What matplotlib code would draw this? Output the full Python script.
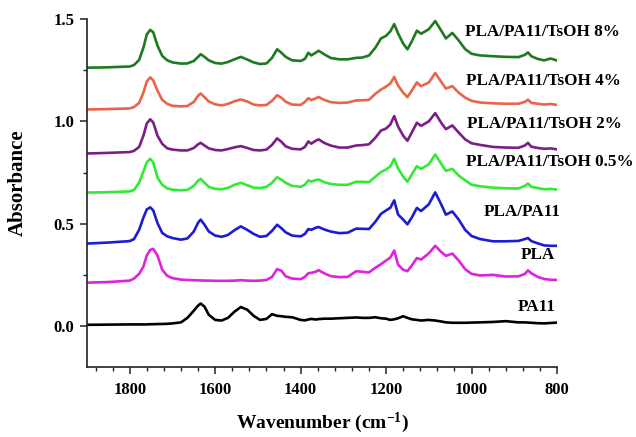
import matplotlib
matplotlib.use("Agg")
import matplotlib.pyplot as plt
from matplotlib.ticker import MultipleLocator, FormatStrFormatter

# ---------------- data ----------------
wavenumber = [1900, 1850, 1800, 1790, 1778, 1768, 1760, 1752, 1745, 1735, 1724, 1712, 1700,
              1680, 1665, 1650, 1640, 1634, 1625, 1615, 1600, 1585, 1570, 1555, 1540, 1525,
              1510, 1495, 1480, 1467, 1455, 1445, 1435, 1420, 1400, 1390, 1382, 1375, 1365,
              1358, 1345, 1330, 1310, 1290, 1270, 1255, 1240, 1225, 1212, 1200, 1190, 1181,
              1172, 1160, 1150, 1140, 1128, 1118, 1100, 1085, 1070, 1060, 1045, 1030, 1015,
              1000, 980, 950, 920, 890, 875, 868, 860, 845, 830, 815, 800]

tsoh_8 = [1.262, 1.264, 1.268, 1.275, 1.300, 1.360, 1.425, 1.447, 1.435, 1.370, 1.320, 1.298, 1.288,
          1.282, 1.283, 1.295, 1.315, 1.328, 1.315, 1.298, 1.285, 1.282, 1.290, 1.303, 1.315, 1.302,
          1.288, 1.280, 1.283, 1.310, 1.352, 1.335, 1.315, 1.298, 1.295, 1.305, 1.335, 1.322, 1.335,
          1.345, 1.328, 1.310, 1.303, 1.303, 1.310, 1.312, 1.322, 1.360, 1.405, 1.418, 1.440, 1.475,
          1.430, 1.380, 1.352, 1.390, 1.443, 1.428, 1.450, 1.490, 1.440, 1.405, 1.432, 1.395, 1.353,
          1.330, 1.322, 1.318, 1.315, 1.314, 1.325, 1.337, 1.318, 1.305, 1.298, 1.307, 1.297]

tsoh_4 = [1.058, 1.060, 1.063, 1.070, 1.090, 1.140, 1.195, 1.215, 1.200, 1.150, 1.105, 1.085, 1.076,
          1.073, 1.075, 1.095, 1.125, 1.136, 1.118, 1.097, 1.083, 1.078, 1.085, 1.098, 1.107, 1.097,
          1.082, 1.078, 1.080, 1.100, 1.128, 1.115, 1.096, 1.082, 1.080, 1.095, 1.113, 1.104, 1.112,
          1.119, 1.105, 1.094, 1.090, 1.092, 1.102, 1.103, 1.105, 1.135, 1.155, 1.170, 1.185, 1.217,
          1.175, 1.140, 1.118, 1.150, 1.190, 1.172, 1.190, 1.236, 1.190, 1.160, 1.172, 1.140, 1.116,
          1.100, 1.092, 1.088, 1.086, 1.086, 1.095, 1.106, 1.090, 1.086, 1.082, 1.085, 1.080]

tsoh_2 = [0.843, 0.846, 0.850, 0.856, 0.875, 0.930, 0.990, 1.010, 0.995, 0.930, 0.890, 0.868, 0.862,
          0.858, 0.858, 0.870, 0.888, 0.895, 0.882, 0.868, 0.860, 0.858, 0.865, 0.873, 0.879, 0.870,
          0.860, 0.858, 0.862, 0.885, 0.917, 0.900, 0.878, 0.866, 0.863, 0.875, 0.902, 0.891, 0.905,
          0.912, 0.895, 0.882, 0.872, 0.872, 0.882, 0.884, 0.888, 0.920, 0.955, 0.965, 0.985, 1.026,
          0.975, 0.930, 0.905, 0.945, 0.993, 0.978, 1.000, 1.040, 0.990, 0.962, 0.980, 0.945, 0.912,
          0.893, 0.885, 0.875, 0.872, 0.871, 0.882, 0.895, 0.876, 0.870, 0.866, 0.868, 0.863]

tsoh_05 = [0.652, 0.654, 0.658, 0.665, 0.700, 0.755, 0.800, 0.817, 0.800, 0.725, 0.690, 0.672, 0.666,
           0.663, 0.665, 0.685, 0.710, 0.719, 0.700, 0.680, 0.670, 0.668, 0.675, 0.690, 0.700, 0.688,
           0.676, 0.674, 0.680, 0.700, 0.727, 0.715, 0.700, 0.685, 0.680, 0.690, 0.712, 0.706, 0.713,
           0.716, 0.703, 0.694, 0.690, 0.690, 0.705, 0.705, 0.703, 0.730, 0.752, 0.765, 0.780, 0.817,
           0.770, 0.730, 0.705, 0.740, 0.781, 0.768, 0.790, 0.838, 0.790, 0.758, 0.768, 0.735, 0.712,
           0.690, 0.683, 0.676, 0.673, 0.672, 0.685, 0.696, 0.680, 0.674, 0.668, 0.670, 0.667]

pla_pa11 = [0.403, 0.408, 0.415, 0.425, 0.470, 0.530, 0.570, 0.580, 0.565, 0.503, 0.455, 0.438, 0.430,
            0.422, 0.428, 0.462, 0.505, 0.520, 0.495, 0.462, 0.442, 0.436, 0.445, 0.468, 0.487, 0.470,
            0.450, 0.436, 0.440, 0.465, 0.495, 0.478, 0.458, 0.442, 0.438, 0.450, 0.474, 0.470, 0.480,
            0.484, 0.472, 0.462, 0.454, 0.456, 0.476, 0.475, 0.474, 0.510, 0.548, 0.565, 0.578, 0.614,
            0.545, 0.520, 0.497, 0.530, 0.577, 0.562, 0.595, 0.653, 0.590, 0.544, 0.560, 0.520, 0.470,
            0.440, 0.425, 0.414, 0.414, 0.416, 0.425, 0.430, 0.415, 0.404, 0.394, 0.392, 0.392]

pla = [0.212, 0.215, 0.222, 0.232, 0.255, 0.290, 0.345, 0.372, 0.377, 0.345, 0.275, 0.245, 0.234,
       0.227, 0.225, 0.224, 0.223, 0.223, 0.222, 0.222, 0.221, 0.221, 0.221, 0.222, 0.224, 0.222,
       0.221, 0.222, 0.225, 0.240, 0.278, 0.270, 0.243, 0.232, 0.229, 0.240, 0.258, 0.260, 0.265,
       0.273, 0.258, 0.244, 0.239, 0.240, 0.268, 0.265, 0.262, 0.285, 0.302, 0.320, 0.335, 0.369,
       0.300, 0.275, 0.268, 0.295, 0.332, 0.325, 0.355, 0.392, 0.360, 0.343, 0.354, 0.320, 0.278,
       0.255, 0.247, 0.250, 0.242, 0.243, 0.255, 0.272, 0.258, 0.240, 0.230, 0.226, 0.225]

pa11 = [0.006, 0.007, 0.008, 0.008, 0.008, 0.008, 0.008, 0.009, 0.009, 0.010, 0.010, 0.011, 0.013,
        0.018, 0.040, 0.075, 0.100, 0.110, 0.095, 0.055, 0.030, 0.027, 0.040, 0.070, 0.093, 0.080,
        0.050, 0.030, 0.035, 0.058, 0.050, 0.048, 0.045, 0.043, 0.030, 0.028, 0.032, 0.035, 0.032,
        0.034, 0.036, 0.036, 0.038, 0.040, 0.042, 0.040, 0.040, 0.043, 0.038, 0.036, 0.030, 0.033,
        0.038, 0.048, 0.040, 0.033, 0.030, 0.027, 0.030, 0.027, 0.022, 0.018, 0.016, 0.016, 0.016,
        0.017, 0.018, 0.020, 0.024, 0.018, 0.018, 0.017, 0.016, 0.014, 0.013, 0.015, 0.017]

series_names = ["PLA/PA11/TsOH 8%", "PLA/PA11/TsOH 4%", "PLA/PA11/TsOH 2%",
                "PLA/PA11/TsOH 0.5%", "PLA/PA11", "PLA", "PA11"]
series_values = [tsoh_8, tsoh_4, tsoh_2, tsoh_05, pla_pa11, pla, pa11]
series_colors = ["#1f7a1f", "#e8644a", "#7b1e88", "#33ea33", "#1c1cd2", "#de22de", "#000000"]

# label anchor positions (wavenumber, absorbance)
label_x = [1015, 1013, 1010, 1013, 971, 886, 893]
label_y = [1.436, 1.196, 0.985, 0.800, 0.555, 0.345, 0.095]

x_ticks = [1800, 1600, 1400, 1200, 1000, 800]
y_ticks = [0.0, 0.5, 1.0, 1.5]

# ---------------- figure ----------------
plt.rcParams['font.family'] = ['Liberation Serif', 'DejaVu Serif']
plt.rcParams['font.weight'] = 'bold'
plt.rcParams['mathtext.fontset'] = 'custom'
plt.rcParams['mathtext.rm'] = 'Liberation Serif:bold'
plt.rcParams['mathtext.bf'] = 'Liberation Serif:bold'
plt.rcParams['mathtext.default'] = 'rm'

fig = plt.figure(figsize=(6.36, 4.37), dpi=100)
ax = fig.add_axes([87 / 636, 1 - 367 / 437, (557 - 87) / 636, (367 - 19) / 437])

for vals, col in zip(series_values, series_colors):
    ax.plot(wavenumber, vals, color=col, lw=1.9, solid_joinstyle='round')

for name, xx, yy in zip(series_names, label_x, label_y):
    ax.text(xx, yy, name, fontsize=12.3, fontweight='bold', ha='left', va='center',
            clip_on=False)

ax.set_xlim(1900, 800)
ax.set_ylim(-0.2, 1.5)
ax.set_xticks(x_ticks)
ax.set_yticks(y_ticks)
ax.xaxis.set_minor_locator(MultipleLocator(40))
ax.yaxis.set_minor_locator(MultipleLocator(0.25))
ax.yaxis.set_major_formatter(FormatStrFormatter('%.1f'))

for s in ['top', 'right']:
    ax.spines[s].set_visible(False)
for s in ['left', 'bottom']:
    ax.spines[s].set_linewidth(1.2)
    ax.spines[s].set_color('#222222')

ax.tick_params(axis='both', which='major', direction='out', length=5, width=1.1,
               labelsize=12, color='#222222')
ax.tick_params(axis='y', which='major', pad=4)
ax.tick_params(axis='x', which='major', pad=6)
ax.tick_params(axis='both', which='minor', direction='out', length=3, width=1.0,
               color='#222222')
for lab in ax.get_xticklabels() + ax.get_yticklabels():
    lab.set_fontweight('bold')

ax.set_xlabel(r'Wavenumber (cm$^{-1}$)', fontsize=14, fontweight='bold', va='baseline')
ax.set_ylabel('Absorbance', fontsize=15, fontweight='bold')
ax.xaxis.set_label_coords(0.5, -0.176)
ax.yaxis.set_label_coords(-0.125, 0.53)

fig.savefig('out.png', dpi=100)
